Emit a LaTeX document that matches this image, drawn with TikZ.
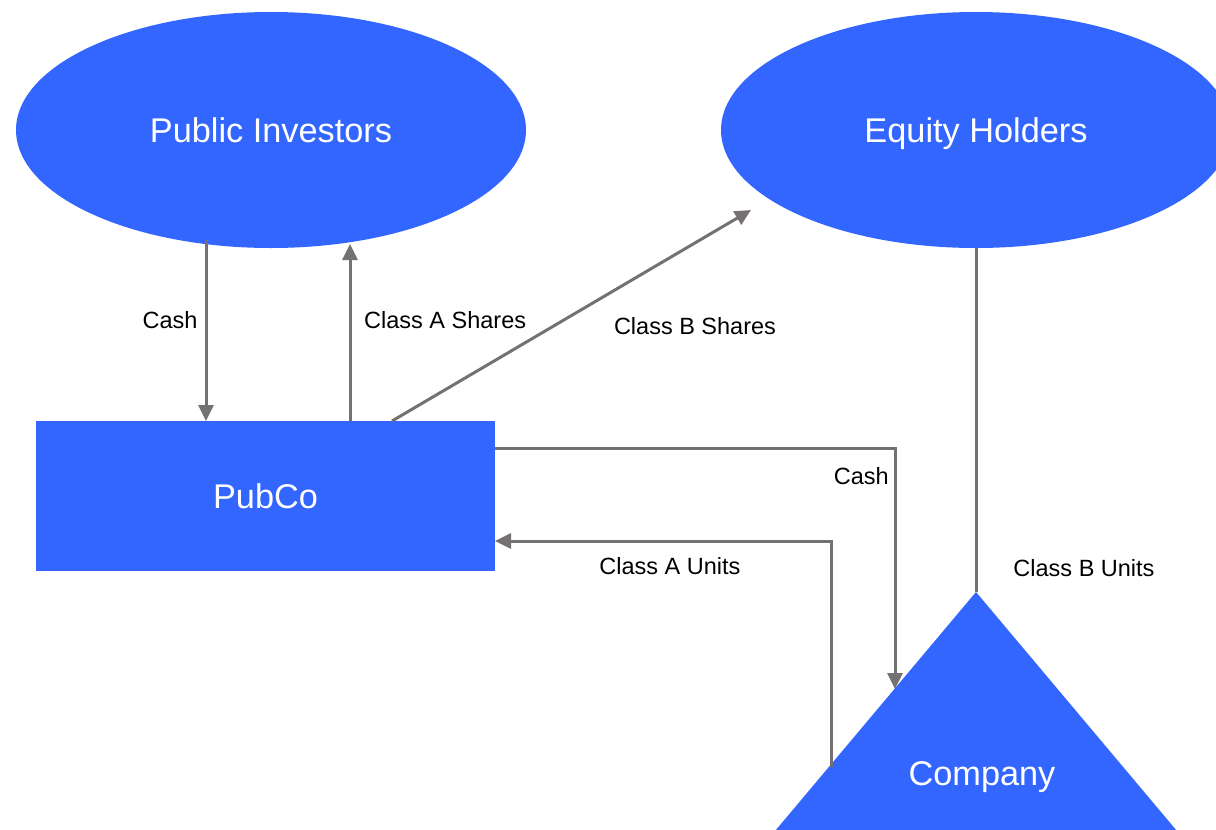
\documentclass[tikz,border=0pt]{standalone}
\usepackage{fontspec}
\setmainfont{Liberation Sans}
\usetikzlibrary{shapes.geometric,arrows.meta}
\definecolor{pblue}{HTML}{3366FF}
\definecolor{pgray}{HTML}{767171}
\tikzset{
  bignode/.style={fill=pblue,draw=none,text=white,font=\fontsize{34.3}{40}\selectfont,inner sep=0pt,text height=24.6pt,text depth=0pt},
  oval/.style={bignode,ellipse,minimum width=510pt,minimum height=236pt},
  box/.style={bignode,rectangle,minimum width=459pt,minimum height=150pt},
  conn/.style={draw=pgray,line width=3pt},
  arr/.style={conn,-{Triangle[length=16pt,width=15pt]}},
  lbl/.style={font=\fontsize{23.5}{27}\selectfont,inner sep=0pt,text=black}
}
\begin{document}
\begin{tikzpicture}[x=1pt,y=-1pt]
\useasboundingbox (0,0) rectangle (1216,830);
\clip (0,0) rectangle (1216,830);
\node[oval] (pi) at (271,130) {Public Investors};
\node[oval] (eh) at (976,130) {Equity Holders};
\node[box] (pub) at (265.5,496) {PubCo};
\fill[pblue] (976,592) -- (1235,900) -- (717,900) -- cycle;
\coordinate (apex) at (976,592);
\node[lbl,text=white,font=\fontsize{34.3}{40}\selectfont,text height=24.6pt,text depth=0pt] (co) at (982,773) {Company};
% connectors
\coordinate (c1a) at (206,240);
\coordinate (c1b) at (206,421);
\draw[arr] (c1a) -- (c1b);
\coordinate (c2a) at (350,421);
\coordinate (c2b) at (350,244);
\draw[arr] (c2a) -- (c2b);
\coordinate (c3a) at (392,421);
\coordinate (c3b) at (751,210);
\draw[arr] (c3a) -- (c3b);
\draw[conn] (eh.south) -- (apex);
\coordinate (c4a) at (495,448);
\coordinate (c4m) at (895,448);
\coordinate (c4b) at (895,689);
\draw[arr] (c4a) -- (c4m) -- (c4b);
\coordinate (c5a) at (831,767);
\coordinate (c5m) at (831,541);
\coordinate (c5b) at (495,541);
\draw[arr] (c5a) -- (c5m) -- (c5b);
% labels
\node[lbl] (l1) at (170,320) {Cash};
\node[lbl,anchor=west] (l2) at (364,320) {Class A Shares};
\node[lbl] (l3) at (695,326) {Class B Shares};
\node[lbl,anchor=east] (l4) at (889,476) {Cash};
\node[lbl] (l5) at (670,566) {Class A Units};
\node[lbl] (l6) at (1084,568) {Class B Units};
\end{tikzpicture}
\end{document}
